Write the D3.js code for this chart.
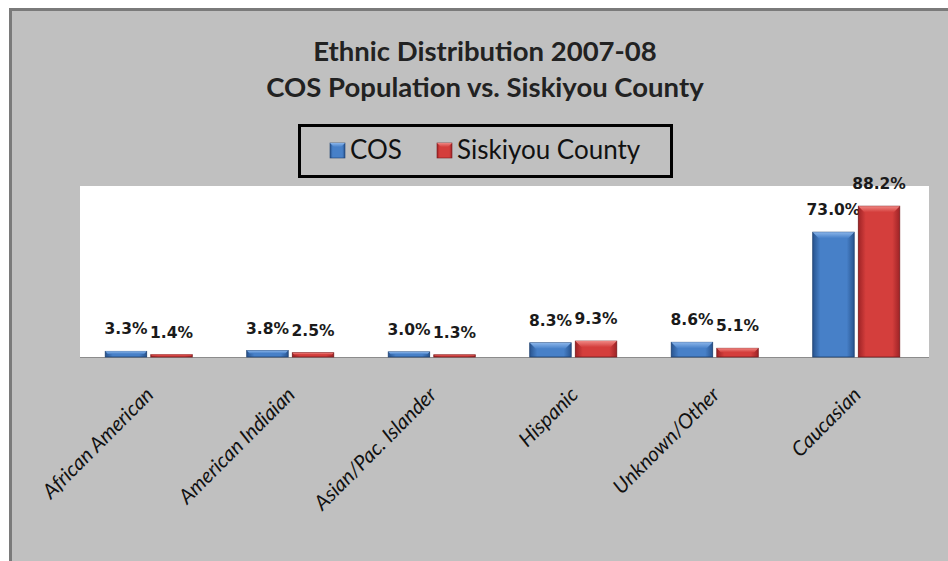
<!DOCTYPE html>
<html>
<head>
<meta charset="utf-8">
<script src="https://cdn.jsdelivr.net/npm/d3@7"></script>
<style>
  html, body { margin: 0; padding: 0; background: #ffffff; }
  svg { display: block; }
</style>
</head>
<body>
<svg id="chart" width="948" height="561"></svg>
<script>
// Ethnic distribution data, 2007-08
const categories = ["African American", "American Indiaian", "Asian/Pac. Islander", "Hispanic", "Unknown/Other", "Caucasian"];
const seriesNames = ["COS", "Siskiyou County"];
const cosValues = [3.3, 3.8, 3.0, 8.3, 8.6, 73.0];
const siskiyouValues = [1.4, 2.5, 1.3, 9.3, 5.1, 88.2];
const titleLines = ["Ethnic Distribution 2007-08", "COS Population vs. Siskiyou County"];

const rows = categories.map((c, i) => ({ category: c, values: [cosValues[i], siskiyouValues[i]] }));

const svg = d3.select("#chart");
const W = 948, H = 561;

// Palette per series: edge, centre, bevel-top, outline
const palette = {
  "COS": { edge: "#28548f", mid: "#4780c8", light: "#8ab5ea", line: "#1d3f6e" },
  "Siskiyou County": { edge: "#9e2326", mid: "#d43e3c", light: "#ef8682", line: "#771a1c" }
};

const defs = svg.append("defs");
seriesNames.forEach((s, i) => {
  const p = palette[s];
  const g = defs.append("linearGradient").attr("id", "body" + i)
    .attr("x1", "0").attr("x2", "1").attr("y1", "0").attr("y2", "0");
  g.append("stop").attr("offset", "0%").attr("stop-color", p.edge);
  g.append("stop").attr("offset", "18%").attr("stop-color", p.mid);
  g.append("stop").attr("offset", "82%").attr("stop-color", p.mid);
  g.append("stop").attr("offset", "100%").attr("stop-color", p.edge);
  const t = defs.append("linearGradient").attr("id", "cap" + i)
    .attr("x1", "0").attr("x2", "0").attr("y1", "0").attr("y2", "1");
  t.append("stop").attr("offset", "0%").attr("stop-color", p.light);
  t.append("stop").attr("offset", "100%").attr("stop-color", p.mid);
});

// Chart frame
svg.append("rect").attr("x", 9).attr("y", 8).attr("width", W - 9).attr("height", H - 8)
  .attr("fill", "#c0c0c0");
svg.append("path").attr("d", `M10.5,${H} V9.5 H${W}`)
  .attr("fill", "none").attr("stroke", "#7a7a7a").attr("stroke-width", 3);

// Plot area
const plot = { left: 80, right: 929, top: 186, bottom: 357 };
svg.append("rect").attr("x", plot.left).attr("y", plot.top)
  .attr("width", plot.right - plot.left).attr("height", plot.bottom - plot.top)
  .attr("fill", "#ffffff");

const x0 = d3.scaleBand().domain(categories).range([78, 927])
  .paddingInner(0.385).paddingOuter(0.1925);
const x1 = d3.scaleBand().domain(seriesNames).range([0, x0.bandwidth()]).paddingInner(0.09);
const y = d3.scaleLinear().domain([0, 100]).range([plot.bottom, plot.top]);

// Baseline
svg.append("line").attr("x1", plot.left).attr("x2", plot.right)
  .attr("y1", plot.bottom + 0.5).attr("y2", plot.bottom + 0.5)
  .attr("stroke", "#8c8c8c").attr("stroke-width", 1);

// Bars
const groups = svg.append("g").selectAll("g").data(rows).join("g")
  .attr("transform", d => `translate(${x0(d.category)},0)`);

groups.each(function (d) {
  const g = d3.select(this);
  d.values.forEach((v, i) => {
    const s = seriesNames[i];
    const p = palette[s];
    const bx = x1(s), bw = x1.bandwidth();
    const top = y(v), h = y(0) - y(v);
    g.append("rect").attr("x", bx).attr("y", top).attr("width", bw).attr("height", h)
      .attr("fill", `url(#body${i})`).attr("stroke", p.line).attr("stroke-width", 0.8);
    const bev = Math.min(6, h * 0.45);
    const ins = Math.min(6, bev);
    g.append("path")
      .attr("d", `M${bx},${top} H${bx + bw} L${bx + bw - ins},${top + bev} H${bx + ins} Z`)
      .attr("fill", `url(#cap${i})`);
    // value label
    g.append("text")
      .attr("x", bx + bw / 2).attr("y", top - 17)
      .attr("text-anchor", "middle")
      .attr("font-family", "DejaVu Sans, Verdana, sans-serif")
      .attr("font-weight", "bold").attr("font-size", 15.5)
      .attr("fill", "#1a1a1a")
      .text(v.toFixed(1) + "%");
  });
});

// Category labels, rotated
svg.append("g").selectAll("text").data(categories).join("text")
  .attr("transform", d => `translate(${x0(d) + x0.bandwidth() / 2 + 6},396) rotate(-45)`)
  .attr("text-anchor", "end")
  .attr("font-family", "Lato, 'Open Sans', sans-serif")
  .attr("font-style", "italic").attr("font-size", 20.5)
  .attr("fill", "#111")
  .text(d => d);

// Title
svg.append("g").selectAll("text").data(titleLines).join("text")
  .attr("x", 485).attr("y", (d, i) => 61 + i * 36)
  .attr("text-anchor", "middle")
  .attr("font-family", "Lato, sans-serif").attr("font-weight", "bold").attr("font-size", 27.5)
  .attr("fill", "#222")
  .text(d => d);

// Legend
const legend = svg.append("g");
legend.append("rect").attr("x", 299.5).attr("y", 125.5).attr("width", 372).attr("height", 51)
  .attr("fill", "none").attr("stroke", "#000").attr("stroke-width", 3);
const legendX = [330, 437];
seriesNames.forEach((s, i) => {
  const p = palette[s];
  const lx = legendX[i];
  legend.append("rect").attr("x", lx).attr("y", 143).attr("width", 15).attr("height", 15)
    .attr("fill", `url(#body${i})`).attr("stroke", p.line).attr("stroke-width", 0.6);
  legend.append("path").attr("d", `M${lx},143 H${lx + 15} L${lx + 11},147 H${lx + 4} Z`)
    .attr("fill", `url(#cap${i})`);
  legend.append("text").attr("x", lx + 20).attr("y", 159)
    .attr("font-family", "Lato, sans-serif").attr("font-size", 26)
    .attr("fill", "#111")
    .text(s);
});
</script>
</body>
</html>
